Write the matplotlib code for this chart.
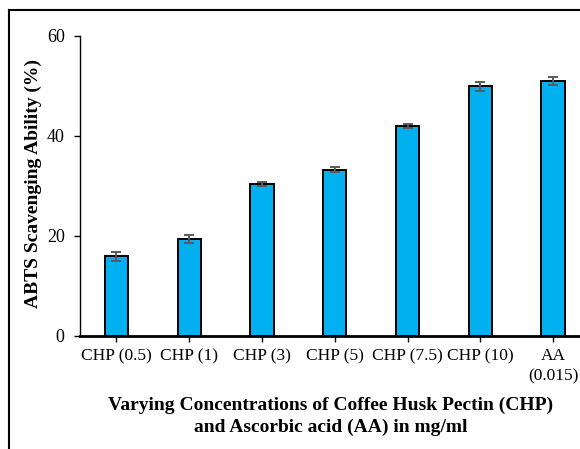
import matplotlib
matplotlib.use("Agg")
import matplotlib.pyplot as plt
from matplotlib.lines import Line2D

categories = ["CHP (0.5)", "CHP (1)", "CHP (3)", "CHP (5)", "CHP (7.5)", "CHP (10)", "AA\n(0.015)"]
values = [16.0, 19.4, 30.5, 33.3, 42.0, 50.0, 51.0]
errors = [0.9, 0.85, 0.4, 0.45, 0.4, 0.9, 0.8]
yticks = [0, 20, 40, 60]

W, H = 580, 449
fig = plt.figure(figsize=(W / 100, H / 100), dpi=100)
plt.rcParams['font.family'] = ['Liberation Serif', 'DejaVu Serif']

left = 80 / W
right = 589.5 / W
bottom = 1 - 336 / H
top = 1 - 36 / H
ax = fig.add_axes([left, bottom, right - left, top - bottom])

x = list(range(len(categories)))
ax.bar(x, values, width=0.32, color="#00B0F0", edgecolor="black", linewidth=1.4, zorder=2)
ax.errorbar(x, values, yerr=errors, fmt="none", ecolor="#5a5a5a", elinewidth=1.4,
            capsize=3.6, capthick=1.4, zorder=3)

ax.set_xlim(-0.5, len(categories) - 0.5)
ax.set_ylim(0, 60)
ax.set_yticks(yticks)
ax.set_xticks(x)
ax.set_xticklabels(categories, fontsize=12.5, linespacing=1.3)
ax.tick_params(axis="y", labelsize=13, length=4, width=1, pad=7, direction="out")
ax.tick_params(axis="x", length=4, width=1, pad=5, direction="out")

for s in ["top", "right"]:
    ax.spines[s].set_visible(False)
ax.spines["left"].set_linewidth(1.0)
ax.spines["bottom"].set_linewidth(2.0)

fig.text(33 / W, 1 - 183 / H, "ABTS Scavenging Ability (%)", rotation=90,
         fontsize=14, fontweight="bold", ha="center", va="center")
fig.text(331 / W, 1 - 416 / H, "Varying Concentrations of Coffee Husk Pectin (CHP)\nand Ascorbic acid (AA) in mg/ml",
         fontsize=14, fontweight="bold", ha="center", va="center", linespacing=1.35)

# outer frame (cropped)
fig.add_artist(Line2D([8.5 / W, 8.5 / W], [0, 1 - 10 / H], color="black", linewidth=1.5,
                      transform=fig.transFigure))
fig.add_artist(Line2D([8.5 / W, 1], [1 - 10 / H, 1 - 10 / H], color="black", linewidth=1.5,
                      transform=fig.transFigure))

fig.savefig("out.png", dpi=100)
